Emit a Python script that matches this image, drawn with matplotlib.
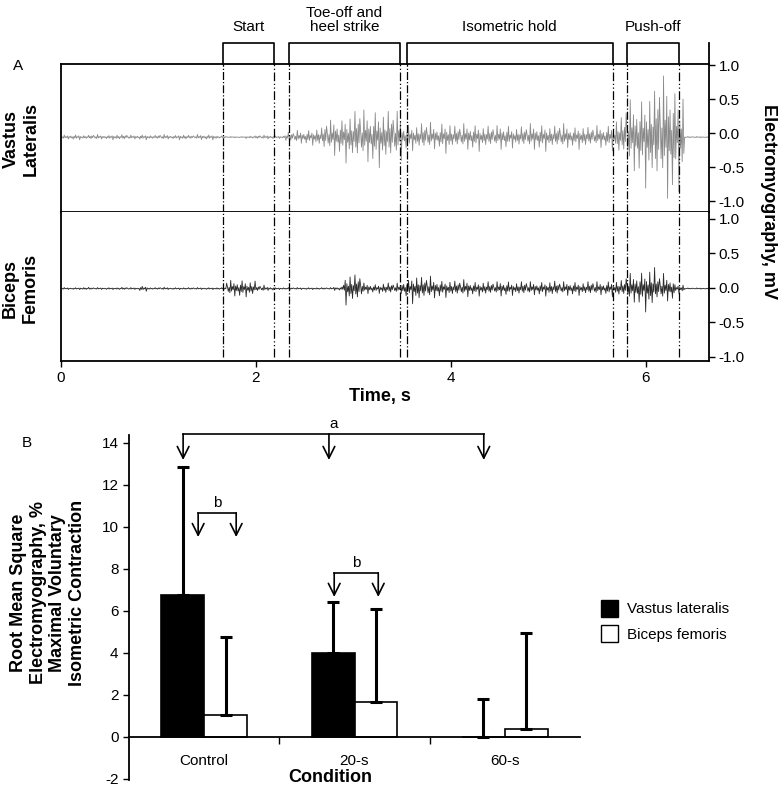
import matplotlib.pyplot as plt
import numpy as np
from matplotlib.patches import Patch

plt.rcParams['font.family'] = ['Liberation Sans', 'DejaVu Sans']
plt.rcParams['axes.unicode_minus'] = False

W, H = 778, 789

# --- panel A data: EMG envelopes (mV, peak amplitude) per 0.1 s bin ---
bin_width = 0.1
vl_envelope = [0.03, 0.04, 0.03, 0.04, 0.03, 0.04, 0.04, 0.03, 0.04, 0.03, 0.04, 0.03, 0.04, 0.03, 0.04, 0.04, 0.02,
               0.01, 0.01, 0.02, 0.03, 0.03, 0.02,
               0.08, 0.10, 0.12, 0.15, 0.25, 0.30,
               0.38, 0.42, 0.40, 0.45, 0.42, 0.38,
               0.22, 0.20, 0.22, 0.19, 0.24, 0.18, 0.20, 0.21, 0.18, 0.17, 0.20, 0.16, 0.17, 0.20, 0.21, 0.18,
               0.20, 0.17, 0.18, 0.16, 0.17, 0.20,
               0.32,
               0.55, 0.65, 0.75, 0.90, 1.00, 0.80,
               0.01, 0.01, 0.01]
bf_envelope = [0.015, 0.015, 0.02, 0.015, 0.015, 0.015, 0.02, 0.015, 0.04, 0.015, 0.02, 0.015, 0.015, 0.015, 0.015, 0.015, 0.015,
               0.12, 0.14, 0.12, 0.05, 0.03, 0.015,
               0.015, 0.015, 0.015, 0.015, 0.015, 0.03,
               0.24, 0.22, 0.08, 0.07, 0.09, 0.08,
               0.15, 0.22, 0.18, 0.15, 0.13, 0.12, 0.13, 0.11, 0.11, 0.10, 0.12, 0.10, 0.11, 0.10, 0.11, 0.12,
               0.10, 0.11, 0.10, 0.11, 0.10, 0.12,
               0.13,
               0.22, 0.28, 0.34, 0.22, 0.20, 0.07,
               0.01, 0.01, 0.01]
vl_baseline = -0.06
bf_baseline = -0.01
# fixed spike pattern used as the EMG carrier
carrier = [0.2, -0.35, 0.15, -0.5, 1.0, -0.3, 0.25, -0.15, 0.6, -0.9, 0.3, -0.2, 0.4, -0.25, 0.1, -0.7,
           0.35, -0.3, 0.8, -0.4, 0.2, -0.1, 0.5, -1.0, 0.3, -0.2, 0.15, -0.45, 0.7, -0.3, 0.25, -0.6,
           0.2, -0.15, 0.9, -0.35, 0.3, -0.55, 0.45, -0.2, 0.65]
samples_per_bin = 12

event_times = [1.66, 2.19, 2.34, 3.48, 3.55, 5.66, 5.81, 6.34]
phase_names = ["Start", "Toe-off and\nheel strike", "Isometric hold", "Push-off"]
phase_start = [1.66, 2.34, 3.55, 5.81]
phase_end = [2.19, 3.48, 5.66, 6.34]

# --- panel B data ---
conditions = ["Control", "20-s", "60-s"]
vl_mean = [6.76, 4.0, 0.0]
vl_sd = [6.1, 2.43, 1.81]
bf_mean = [1.05, 1.67, 0.38]
bf_sd = [3.71, 4.43, 4.57]


def box(l, t, r, b):
    return [l / W, 1 - b / H, (r - l) / W, (b - t) / H]


def emg(envelope, baseline):
    env = np.repeat(np.array(envelope), samples_per_bin)
    sig = baseline + env * np.resize(np.array(carrier), env.size)
    t = np.arange(env.size) * bin_width / samples_per_bin
    return t, sig


fig = plt.figure(figsize=(W / 100, H / 100), dpi=100)

ax1 = fig.add_axes(box(61, 64, 709, 212))
ax2 = fig.add_axes(box(61, 212, 709, 361))

t, s = emg(vl_envelope, vl_baseline)
ax1.plot(t, s, color='#8a8a8a', lw=0.6)
t, s = emg(bf_envelope, bf_baseline)
ax2.plot(t, s, color='#2b2b2b', lw=0.6)

styles = ['-.', (0, (7, 2, 1, 2, 1, 2))]
for i, et in enumerate(event_times):
    ls = styles[0] if i % 2 == 0 else styles[1]
    ax1.axvline(et, color='k', lw=0.9, ls=ls)
    ax2.axvline(et, ymin=0.03, color='k', lw=0.9, ls=ls)

for ax, ylim in ((ax1, (-1.16, 1.015)), (ax2, (-1.06, 1.10))):
    ax.set_xlim(0, 6.65)
    ax.set_ylim(*ylim)
    ax.set_yticks([-1.0, -0.5, 0.0, 0.5, 1.0])
    ax.set_yticklabels(['-1.0', '-0.5', '0.0', '0.5', '1.0'])
    ax.yaxis.tick_right()
    ax.tick_params(axis='y', direction='out', length=4, width=1, labelsize=11, pad=3)
    for sp in ax.spines.values():
        sp.set_linewidth(1.3)

ax1.set_xticks([])
ax2.spines['top'].set_visible(False)
ax2.set_xticks([0, 2, 4, 6])
ax2.tick_params(axis='x', direction='out', length=4, width=1, labelsize=11, pad=3)

# phase brackets above the traces
tr = ax1.get_xaxis_transform()
for name, t0, t1 in zip(phase_names, phase_start, phase_end):
    ax1.plot([t0, t0, t1, t1], [1, 1.142, 1.142, 1], color='k', lw=1.2, transform=tr, clip_on=False)
    ax1.text((t0 + t1) / 2, 1.2, name, transform=tr, ha='center', va='bottom', fontsize=11,
             linespacing=1.0)
ax1.plot([6.65, 6.65], [1, 1.142], color='k', lw=1.3, transform=tr, clip_on=False)

fig.text(18 / W, 1 - 66 / H, 'A', ha='center', va='center', fontsize=11)
fig.text(21 / W, 1 - 139 / H, 'Vastus\nLateralis', rotation=90, ha='center', va='center',
         fontsize=13, fontweight='bold', linespacing=1.2)
fig.text(20 / W, 1 - 288 / H, 'Biceps\nFemoris', rotation=90, ha='center', va='center',
         fontsize=13, fontweight='bold', linespacing=1.2)
fig.text(769 / W, 1 - 201 / H, 'Electromyography, mV', rotation=-90, ha='center', va='center',
         fontsize=13, fontweight='bold')
fig.text(380 / W, 1 - 397 / H, 'Time, s', ha='center', va='center', fontsize=13, fontweight='bold')

# --- panel B ---
ax3 = fig.add_axes(box(129, 435, 580, 780))
x = np.arange(len(conditions))
bw = 0.286
ax3.bar(x - 0.143, vl_mean, bw, color='k', edgecolor='k', lw=1.2, label='Vastus lateralis', zorder=2)
ax3.bar(x + 0.143, bf_mean, bw, color='white', edgecolor='k', lw=1.2, label='Biceps femoris', zorder=2)
zeros = np.zeros(len(conditions))
ax3.errorbar(x - 0.143, vl_mean, yerr=[zeros, vl_sd], fmt='none', ecolor='k', elinewidth=2.2,
             capsize=4, capthick=2.2, zorder=3)
ax3.errorbar(x + 0.143, bf_mean, yerr=[zeros, bf_sd], fmt='none', ecolor='k', elinewidth=2.2,
             capsize=4, capthick=2.2, zorder=3)

ax3.set_xlim(-0.5, 2.5)
ax3.set_ylim(-2.05, 14.38)
ax3.set_yticks(range(-2, 15, 2))
ax3.spines['top'].set_visible(False)
ax3.spines['right'].set_visible(False)
ax3.spines['bottom'].set_position(('data', 0))
ax3.spines['left'].set_linewidth(1.3)
ax3.spines['bottom'].set_linewidth(1.3)
ax3.set_xticks(x)
ax3.set_xticklabels(conditions)
ax3.set_xticks([0.5, 1.5], minor=True)
ax3.tick_params(axis='x', which='major', length=0, labelsize=11, pad=12)
ax3.tick_params(axis='x', which='minor', direction='out', length=5, width=1)
ax3.tick_params(axis='y', direction='out', length=4, width=1, labelsize=11)


def bracket(ax, xs, top, tip, label):
    ax.plot([xs[0], xs[-1]], [top, top], color='k', lw=1.2, clip_on=False)
    for xv in xs:
        ax.annotate('', xy=(xv, tip), xytext=(xv, top),
                    arrowprops=dict(arrowstyle='->, head_length=0.7, head_width=0.35', lw=1.2,
                                    color='k', shrinkA=0, shrinkB=0, mutation_scale=12))
    ax.text((xs[0] + xs[-1]) / 2, top + 0.15, label, ha='center', va='bottom', fontsize=11)


bracket(ax3, [-0.14, 0.83, 1.86], 14.43, 13.19, 'a')
bracket(ax3, [-0.04, 0.213], 10.67, 9.52, 'b')
bracket(ax3, [0.865, 1.158], 7.81, 6.67, 'b')

handles = [Patch(facecolor='k', edgecolor='k', label='Vastus lateralis'),
           Patch(facecolor='white', edgecolor='k', label='Biceps femoris')]
ax3.legend(handles=handles, loc='upper left', bbox_to_anchor=(601 / W, 1 - 600 / H),
           bbox_transform=fig.transFigure, frameon=False, fontsize=11, handlelength=1.1,
           handleheight=1.3, handletextpad=0.6, borderpad=0, borderaxespad=0, labelspacing=0.55)

fig.text(27 / W, 1 - 443 / H, 'B', ha='center', va='center', fontsize=11)
fig.text(48 / W, 1 - 593 / H,
         'Root Mean Square\nElectromyography, %\nMaximal Voluntary\nIsometric Contraction',
         rotation=90, ha='center', va='center', multialignment='center',
         fontsize=13, fontweight='bold', linespacing=1.2)
fig.text(330 / W, 1 - 778 / H, 'Condition', ha='center', va='center', fontsize=13, fontweight='bold')

fig.savefig('out.png', dpi=100)
